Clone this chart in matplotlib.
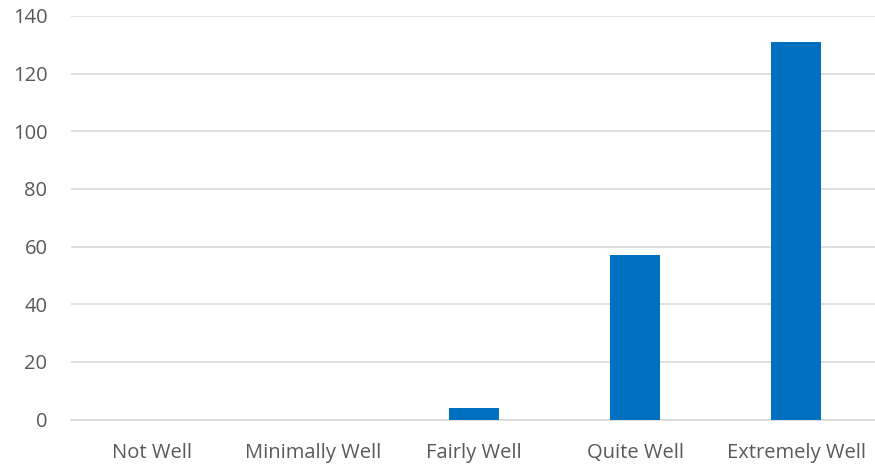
import matplotlib.pyplot as plt

categories = ['Not Well', 'Minimally Well', 'Fairly Well', 'Quite Well', 'Extremely Well']
counts = [0, 0, 4, 57, 131]
yticks = [0, 20, 40, 60, 80, 100, 120, 140]

plt.rcParams['font.family'] = ['Open Sans', 'DejaVu Sans']

fig = plt.figure(figsize=(8.75, 4.65), dpi=100)
ax = fig.add_axes([71/875, 1 - 419.5/465, 806/875, 403.5/465])

ax.bar(range(len(categories)), counts, width=0.31, color='#0070C0', zorder=3)

ax.set_xlim(-0.5, len(categories) - 0.5)
ax.set_ylim(0, 140)
ax.set_yticks(yticks)
ax.set_xticks(range(len(categories)))
ax.set_xticklabels(categories)

ax.grid(axis='y', color='#D9D9D9', linewidth=1.2, zorder=0)
for s in ['top', 'right', 'left']:
    ax.spines[s].set_visible(False)
ax.spines['bottom'].set_color('#D9D9D9')
ax.spines['bottom'].set_linewidth(1.2)
ax.tick_params(axis='both', length=0, labelsize=14.5, colors='#595959')
ax.tick_params(axis='y', pad=17)
ax.tick_params(axis='x', pad=17)

fig.savefig('out.png', dpi=100)
